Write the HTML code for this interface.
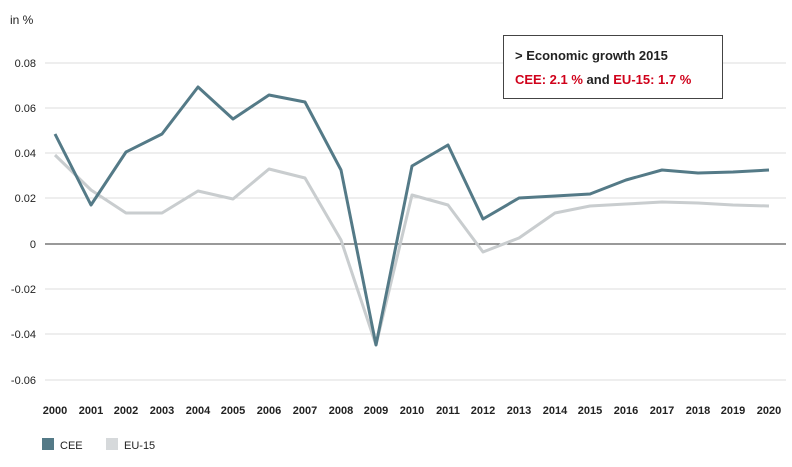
<!DOCTYPE html>
<html><head><meta charset="utf-8"><style>
body{margin:0;background:#fff;font-family:"Liberation Sans",Arial,sans-serif;}
svg text{font-family:"Liberation Sans",Arial,sans-serif;}
</style></head><body>
<svg width="792" height="462" viewBox="0 0 792 462" xmlns="http://www.w3.org/2000/svg">
<rect width="792" height="462" fill="#fff"/>
<text x="10" y="24" font-size="12" fill="#222">in %</text>
<g stroke="#dcdcdc" stroke-width="1">
<line x1="45" x2="786" y1="63" y2="63"/>
<line x1="45" x2="786" y1="108" y2="108"/>
<line x1="45" x2="786" y1="153" y2="153"/>
<line x1="45" x2="786" y1="198" y2="198"/>
<line x1="45" x2="786" y1="289" y2="289"/>
<line x1="45" x2="786" y1="334" y2="334"/>
<line x1="45" x2="786" y1="380" y2="380"/>
</g>
<line x1="45" x2="786" y1="244" y2="244" stroke="#333" stroke-width="1"/>
<g font-size="11" fill="#222" text-anchor="end">
<text x="36" y="67">0.08</text>
<text x="36" y="112">0.06</text>
<text x="36" y="157">0.04</text>
<text x="36" y="202">0.02</text>
<text x="36" y="248">0</text>
<text x="36" y="293">-0.02</text>
<text x="36" y="338">-0.04</text>
<text x="36" y="384">-0.06</text>
</g>
<g font-size="11" fill="#222" text-anchor="middle" font-weight="bold">
<text x="55" y="414">2000</text><text x="91" y="414">2001</text><text x="126" y="414">2002</text><text x="162" y="414">2003</text><text x="198" y="414">2004</text><text x="233" y="414">2005</text><text x="269" y="414">2006</text><text x="305" y="414">2007</text><text x="341" y="414">2008</text><text x="376" y="414">2009</text><text x="412" y="414">2010</text><text x="448" y="414">2011</text><text x="483" y="414">2012</text><text x="519" y="414">2013</text><text x="555" y="414">2014</text><text x="590" y="414">2015</text><text x="626" y="414">2016</text><text x="662" y="414">2017</text><text x="698" y="414">2018</text><text x="733" y="414">2019</text><text x="769" y="414">2020</text>
</g>
<polyline fill="none" stroke="#c9cdcf" stroke-width="3" stroke-linejoin="round" points="55,155 91,190 126,213 162,213 198,191 233,199 269,169 305,178 341,240 376,345 412,195 448,205 483,252 519,238 555,213 590,206 626,204 662,202 698,203 733,205 769,206"/>
<polyline fill="none" stroke="#547a87" stroke-width="3" stroke-linejoin="round" points="55,134 91,205 126,152 162,134 198,87 233,119 269,95 305,102 341,170 376,345 412,166 448,145 483,219 519,198 555,196 590,194 626,180 662,170 698,173 733,172 769,170"/>
<rect x="503.5" y="35.5" width="219" height="63" fill="#fff" stroke="#444" stroke-width="1"/>
<text x="515" y="60" font-size="13" font-weight="bold" fill="#222">&gt; Economic growth 2015</text>
<text x="515" y="84" font-size="13" font-weight="bold" fill="#222"><tspan fill="#d0021b">CEE: 2.1 %</tspan> and <tspan fill="#d0021b">EU-15: 1.7 %</tspan></text>
<rect x="42" y="438" width="12" height="12" fill="#547a87"/>
<text x="60" y="449" font-size="11" fill="#222">CEE</text>
<rect x="106" y="438" width="12" height="12" fill="#d6d9db"/>
<text x="124" y="449" font-size="11" fill="#222">EU-15</text>
</svg>
</body></html>
